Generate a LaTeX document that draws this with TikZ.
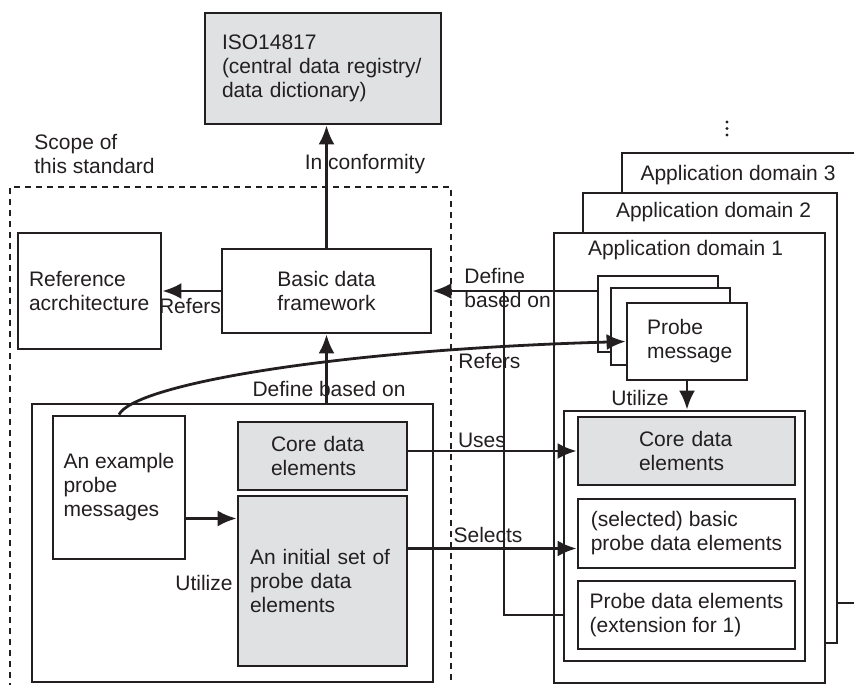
\documentclass[tikz,border=0pt]{standalone}
\usepackage{fontspec}
\setmainfont{Liberation Sans}
\usetikzlibrary{positioning,arrows.meta,calc}
\definecolor{ink}{HTML}{231F20}
\definecolor{boxgray}{HTML}{E0E1E3}

\begin{document}
\hyphenpenalty=10000 \exhyphenpenalty=10000
\begin{tikzpicture}[x=1pt,y=-1pt,color=ink,line width=2.8pt,font=\fontsize{21}{24}\selectfont,
  b/.style={draw,fill=white,inner sep=0pt,align=left},
  g/.style={b,fill=boxgray},
  lbl/.style={inner sep=0pt,align=left},
  arr/.style={-{Latex[length=19pt,width=16pt]}}]
  \useasboundingbox (0,0) rectangle (854,685);
  \clip (0,0) rectangle (854,685);
  \draw[dash pattern=on 6pt off 5pt] (10,700) |- (451,187) -- (451,700);
  \node[lbl,anchor=west] (sc) at (33,154) {Scope of\\this standard};
  \node[g,minimum width=236pt,minimum height=111pt,text width=202pt] (iso) at (323,68.5) {ISO14817\\(central data registry/\\data dictionary)};
  \node[b,minimum width=143pt,minimum height=116pt,text width=121pt] (ref) at (89.5,291) {Reference\\acrchitecture};
  \node[b,minimum width=209pt,minimum height=84pt,align=center] (bdf) at (326.5,291) {Basic data\\framework};
  \node[b,minimum width=401pt,minimum height=278pt] (lo) at (232.5,543) {};
  \node[b,minimum width=132pt,minimum height=143pt] (ex) at (119,487.5) {An example\\probe\\messages};
  \node[g,minimum width=169pt,minimum height=68pt,text width=103pt] (lc) at (322.5,456) {Core data\\elements};
  \node[g,minimum width=169pt,minimum height=170pt,text width=145pt] (ini) at (322.5,581) {An initial set of\\probe data\\elements};
  \node[b,minimum width=260pt,minimum height=450pt] (ad3) at (752,378) {};
  \node[b,minimum width=254pt,minimum height=450pt] (ad2) at (710,418) {};
  \node[b,minimum width=271pt,minimum height=450pt] (ad1) at (689.5,458) {};
  \node[lbl] (t3) at (738,175) {Application domain 3};
  \node[lbl] (t2) at (713.5,212) {Application domain 2};
  \node[lbl] (t1) at (685.5,250) {Application domain 1};
  \foreach \y in {122,128.5,135} \fill (727,\y) circle (1.6pt);
  \node[b,minimum width=120pt,minimum height=76pt] (pb) at (658,314) {};
  \node[b,minimum width=119pt,minimum height=77pt] (pm) at (670.5,326.5) {};
  \node[b,minimum width=120pt,minimum height=77pt,text width=80pt] (pf) at (687,341.5) {Probe\\message};
  \node[b,minimum width=241pt,minimum height=250pt] (ct) at (684.5,536) {};
  \node[g,minimum width=217pt,minimum height=68pt,text width=95pt] (rc) at (686.5,451) {Core data\\elements};
  \node[b,minimum width=217pt,minimum height=69pt] (sel) at (686.5,533.5) {(selected) basic\\probe data elements};
  \node[b,minimum width=217pt,minimum height=68pt] (ext) at (686.5,615) {Probe data elements\\(extension for 1)};
  \coordinate (jn) at (504,0);
  \draw[arr] (bdf.north) -- (bdf.north |- iso.south);
  \draw[arr] (bdf) -- (ref);
  \draw[arr] (bdf.south |- lo.north) -- (bdf.south);
  \draw[arr] (pb.west |- bdf.east) -- (bdf.east);
  \draw (ct.west |- ext) -| (jn |- bdf.east);
  \draw[arr] (ex.north) .. controls (134,385) and (330,350) .. (pf.west);
  \draw[arr] (pf.south) -- (pf.south |- ct.north);
  \draw[arr] ([yshift=-31pt]ex.east) -- ([yshift=-31pt]ex.east -| ini.west);
  \draw[arr] (lc.east |- rc.west) -- (rc.west);
  \draw[arr] ([yshift=-15pt]sel.west -| ini.east) -- ([yshift=-15pt]sel.west);
  \node[lbl] (lcf) at (365,164) {In conformity};
  \node[lbl] (lrf) at (190,306) {Refers};
  \node[lbl] (ldb) at (329,389) {Define based on};
  \node[lbl,anchor=west] (ldr) at (463,288) {Define\\based on};
  \node[lbl,anchor=west] (lrr) at (457,361) {Refers};
  \node[lbl] (lut) at (640,398) {Utilize};
  \node[lbl] (lus) at (482,440) {Uses};
  \node[lbl] (lse) at (488,535) {Selects};
  \node[lbl] (lul) at (204,583) {Utilize};
\end{tikzpicture}
\end{document}
